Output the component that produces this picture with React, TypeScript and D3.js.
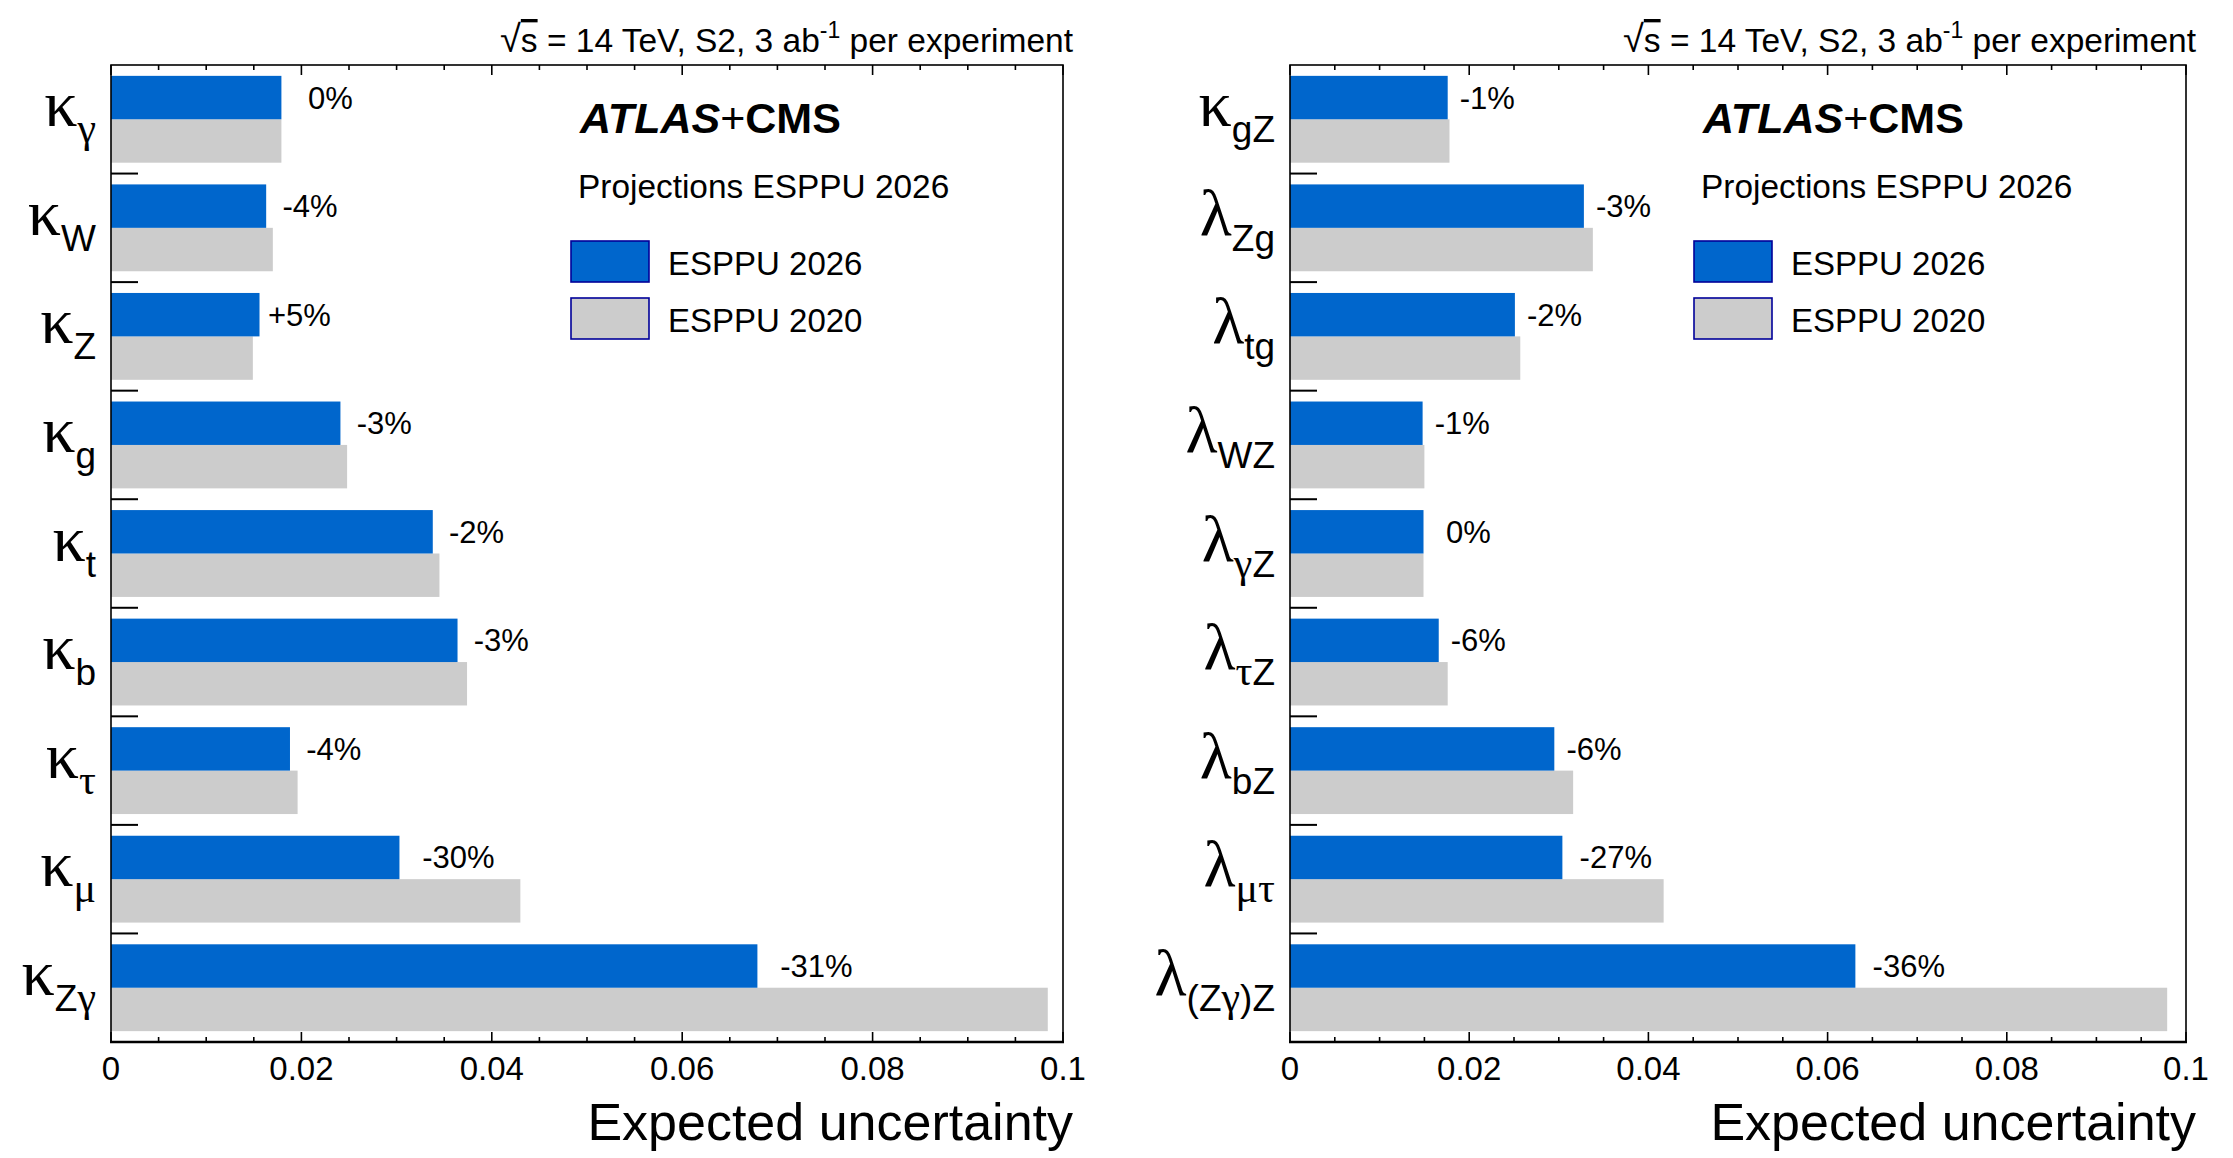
import React, { useEffect, useRef } from 'react';
import * as d3 from 'd3';

// Left panel: coupling modifiers
const leftSymbols = ['κ', 'κ', 'κ', 'κ', 'κ', 'κ', 'κ', 'κ', 'κ'];
const leftSubs = ['γ', 'W', 'Z', 'g', 't', 'b', 'τ', 'μ', 'Zγ'];
const leftNew = [0.0179, 0.0163, 0.0156, 0.0241, 0.0338, 0.0364, 0.0188, 0.0303, 0.0679];
const leftOld = [0.0179, 0.0170, 0.0149, 0.0248, 0.0345, 0.0374, 0.0196, 0.0430, 0.0984];
const leftPct = ['0%', '-4%', '+5%', '-3%', '-2%', '-3%', '-4%', '-30%', '-31%'];

// Right panel: ratios of coupling modifiers
const rightSymbols = ['κ', 'λ', 'λ', 'λ', 'λ', 'λ', 'λ', 'λ', 'λ'];
const rightSubs = ['gZ', 'Zg', 'tg', 'WZ', 'γZ', 'τZ', 'bZ', 'μτ', '(Zγ)Z'];
const rightNew = [0.0176, 0.0328, 0.0251, 0.0148, 0.0149, 0.0166, 0.0295, 0.0304, 0.0631];
const rightOld = [0.0178, 0.0338, 0.0257, 0.0150, 0.0149, 0.0176, 0.0316, 0.0417, 0.0979];
const rightPct = ['-1%', '-3%', '-2%', '-1%', '0%', '-6%', '-6%', '-27%', '-36%'];

const xTicks = [0, 0.02, 0.04, 0.06, 0.08, 0.1];
const seriesNames = ['ESPPU 2026', 'ESPPU 2020'];

const BLUE = '#0066cc';
const GRAY = '#cccccc';
const SANS = '"Liberation Sans", Arial, Helvetica, sans-serif';
const SERIF = '"Liberation Serif", "Times New Roman", serif';

const width = 2233;
const height = 1158;

interface PanelOpts {
  x0: number;
  x1: number;
  symbols: string[];
  subs: string[];
  newVals: number[];
  oldVals: number[];
  pct: string[];
}

const isGreek = (c: string) => /[\u0370-\u03ff]/.test(c);

function drawPanel(svg: d3.Selection<SVGSVGElement, unknown, null, undefined>, o: PanelOpts) {
  const top = 65;
  const bottom = 1042;
  const n = o.symbols.length;

  const x = d3.scaleLinear().domain([0, 0.1]).range([o.x0, o.x1]);
  const y = d3.scaleBand<number>().domain(d3.range(n)).range([top, bottom]);
  const bw = y.bandwidth();

  const g = svg.append('g');

  // bars (2020 underneath, 2026 on top half)
  g.selectAll('rect.old')
    .data(o.oldVals)
    .join('rect')
    .attr('class', 'old')
    .attr('x', x(0))
    .attr('y', (d, i) => (y(i) as number) + bw * 0.5)
    .attr('width', d => x(d) - x(0))
    .attr('height', bw * 0.4)
    .attr('fill', GRAY);

  g.selectAll('rect.new')
    .data(o.newVals)
    .join('rect')
    .attr('class', 'new')
    .attr('x', x(0))
    .attr('y', (d, i) => (y(i) as number) + bw * 0.1)
    .attr('width', d => x(d) - x(0))
    .attr('height', bw * 0.4)
    .attr('fill', BLUE);

  // percentage labels
  g.selectAll('text.pct')
    .data(o.newVals)
    .join('text')
    .attr('class', 'pct')
    .attr('x', (d, i) => x(d + (o.pct[i].length >= 4 ? 0.01 : 0.0075)))
    .attr('y', (d, i) => (y(i) as number) + bw * 0.3 + 11)
    .attr('text-anchor', 'end')
    .attr('font-family', SANS)
    .attr('font-size', 31)
    .text((d, i) => o.pct[i]);

  // frame
  g.append('rect')
    .attr('x', o.x0)
    .attr('y', top)
    .attr('width', o.x1 - o.x0)
    .attr('height', bottom - top)
    .attr('fill', 'none')
    .attr('stroke', '#000')
    .attr('stroke-width', 1.6);

  g.append('line')
    .attr('x1', o.x0 - 1)
    .attr('x2', o.x1 + 1)
    .attr('y1', bottom)
    .attr('y2', bottom)
    .attr('stroke', '#000')
    .attr('stroke-width', 2.6);

  // x ticks, top and bottom
  const minor = d3.range(0, 0.1 + 1e-9, 0.005);
  minor.forEach((v, i) => {
    const len = i % 4 === 0 ? 10 : 5;
    g.append('line')
      .attr('x1', x(v)).attr('x2', x(v))
      .attr('y1', bottom).attr('y2', bottom - len)
      .attr('stroke', '#000').attr('stroke-width', 1.6);
    g.append('line')
      .attr('x1', x(v)).attr('x2', x(v))
      .attr('y1', top).attr('y2', top + len)
      .attr('stroke', '#000').attr('stroke-width', 1.6);
  });

  g.selectAll('text.tick')
    .data(xTicks)
    .join('text')
    .attr('class', 'tick')
    .attr('x', d => x(d))
    .attr('y', 1080)
    .attr('text-anchor', 'middle')
    .attr('font-family', SANS)
    .attr('font-size', 33)
    .text(d => d3.format('~g')(d));

  // category boundary ticks on y axis
  g.selectAll('line.ysep')
    .data(d3.range(1, n))
    .join('line')
    .attr('class', 'ysep')
    .attr('x1', o.x0)
    .attr('x2', o.x0 + 27)
    .attr('y1', d => y(d) as number)
    .attr('y2', d => y(d) as number)
    .attr('stroke', '#000')
    .attr('stroke-width', 2);

  // category labels
  o.symbols.forEach((sym, i) => {
    const t = g.append('text')
      .attr('x', o.x0 - 15)
      .attr('y', (y(i) as number) + bw / 2 + 7)
      .attr('text-anchor', 'end');
    t.append('tspan')
      .attr('font-family', SERIF)
      .attr('font-size', 66)
      .text(sym);
    Array.from(o.subs[i]).forEach((c, j) => {
      const s = t.append('tspan')
        .attr('font-family', isGreek(c) ? SERIF : SANS)
        .attr('font-size', isGreek(c) ? 42 : 37)
        .text(c);
      if (j === 0) s.attr('dy', 16);
    });
  });

  // axis title
  g.append('text')
    .attr('x', o.x1 + 10)
    .attr('y', 1140)
    .attr('text-anchor', 'end')
    .attr('font-family', SANS)
    .attr('font-size', 52)
    .text('Expected uncertainty');

  // header
  const h = g.append('text')
    .attr('x', o.x1 + 10)
    .attr('y', 52)
    .attr('text-anchor', 'end')
    .attr('font-family', SANS)
    .attr('font-size', 33.5);
  h.append('tspan').attr('font-size', 38).text('√');
  h.append('tspan').attr('text-decoration', 'overline').text('s');
  h.append('tspan').text(' = 14 TeV, S2, 3 ab');
  h.append('tspan').attr('font-size', 23).attr('dy', -14).text('-1');
  h.append('tspan').attr('dy', 14).text(' per experiment');

  // legend block
  const lx = o.x1 - 483;
  const atl = g.append('text')
    .attr('x', lx)
    .attr('y', 133)
    .attr('font-family', SANS)
    .attr('font-size', 43)
    .attr('font-weight', 'bold');
  atl.append('tspan').attr('font-style', 'italic').text('ATLAS');
  atl.append('tspan').attr('font-weight', 'normal').text('+');
  atl.append('tspan').text('CMS');

  g.append('text')
    .attr('x', lx - 2)
    .attr('y', 198)
    .attr('font-family', SANS)
    .attr('font-size', 33.4)
    .text('Projections ESPPU 2026');

  const legFills = [BLUE, GRAY];
  seriesNames.forEach((name, i) => {
    const by = 241 + i * 57;
    g.append('rect')
      .attr('x', o.x1 - 492)
      .attr('y', by)
      .attr('width', 78)
      .attr('height', 41)
      .attr('fill', legFills[i])
      .attr('stroke', '#000099')
      .attr('stroke-width', 1.6);
    g.append('text')
      .attr('x', o.x1 - 395)
      .attr('y', by + 34)
      .attr('font-family', SANS)
      .attr('font-size', 33)
      .text(name);
  });
}

const App: React.FC = () => {
  const svgRef = useRef<SVGSVGElement>(null);

  useEffect(() => {
    if (!svgRef.current) return;
    const svg = d3.select(svgRef.current);
    svg.selectAll('*').remove();

    svg.append('rect').attr('width', width).attr('height', height).attr('fill', '#fff');

    drawPanel(svg, {
      x0: 111, x1: 1063,
      symbols: leftSymbols, subs: leftSubs,
      newVals: leftNew, oldVals: leftOld, pct: leftPct
    });
    drawPanel(svg, {
      x0: 1290, x1: 2186,
      symbols: rightSymbols, subs: rightSubs,
      newVals: rightNew, oldVals: rightOld, pct: rightPct
    });
  }, []);

  return (
    <svg
      ref={svgRef}
      width={width}
      height={height}
      style={{ position: 'absolute', left: 0, top: 0, display: 'block' }}
    />
  );
};

export default App;
